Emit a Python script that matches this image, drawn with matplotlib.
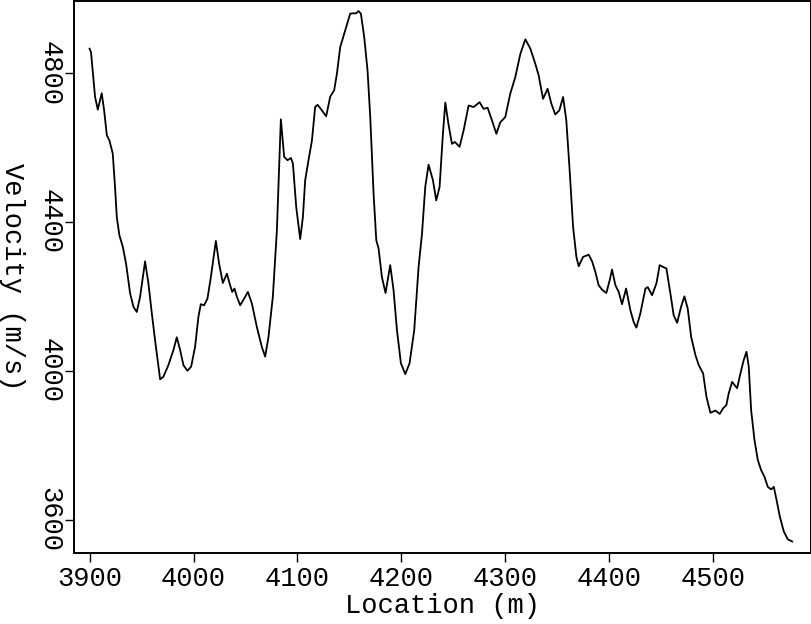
import numpy as np
import matplotlib
matplotlib.use("Agg")
import matplotlib.pyplot as plt

# ###########################################################
# Data
# ###########################################################

location = [
    3900, 3901.4, 3905.3, 3907.9, 3911.7, 3914, 3916.6, 3919.1, 3922.3, 3924.5,
    3926.2, 3928.7, 3932, 3935.1, 3939, 3942.2, 3945.4, 3948.6, 3953.4, 3956.6,
    3959.9, 3963, 3967.9, 3971, 3975.8, 3980.7, 3983.9, 3987.1, 3990.3, 3994.1,
    3997.7, 4001.5, 4004.7, 4007, 4010.2, 4013.4, 4016.7, 4021.5, 4024.6, 4028.2,
    4032.1, 4035.2, 4037.2, 4039.4, 4041.7, 4044.9, 4048.7, 4052.3, 4056.1, 4060.9,
    4065.7, 4068.9, 4072.1, 4076.3, 4080.2, 4084, 4087.2, 4090.4, 4093.7, 4095.6,
    4098.8, 4102.6, 4105.2, 4107.4, 4110.6, 4113.9, 4117, 4119.3, 4123.5, 4127.6,
    4131.5, 4135.3, 4137.9, 4141.1, 4145.9, 4150.7, 4153.9, 4156.5, 4158.7, 4161,
    4164.2, 4167.4, 4170, 4173.2, 4175.8, 4178, 4181.2, 4184.7, 4189.2, 4192.4,
    4195.7, 4199.5, 4203.7, 4207.8, 4212.3, 4216.5, 4219.8, 4222.9, 4226.1, 4230.3,
    4233.5, 4236.7, 4239.8, 4242.2, 4245.3, 4248.6, 4251.5, 4255.9, 4259.8, 4264.6,
    4269.4, 4275.2, 4279, 4282.9, 4287.1, 4291.3, 4295.1, 4299.9, 4304.7, 4309.5,
    4314.4, 4319.2, 4324, 4328.8, 4332, 4336.2, 4340.6, 4344.2, 4348, 4351.9,
    4355.5, 4358.6, 4361.8, 4365.1, 4368.3, 4370.5, 4374.7, 4380.1, 4383.4, 4386.5,
    4389.7, 4393, 4397.1, 4400.3, 4402.6, 4405.8, 4409, 4412.2, 4416.1, 4420.2,
    4423.4, 4426, 4429.8, 4434.7, 4436.9, 4441.1, 4445.3, 4448.4, 4451.7, 4454.9,
    4458.7, 4461.9, 4465.2, 4469, 4472.2, 4475.4, 4478.7, 4482.8, 4486, 4490.2,
    4493.4, 4497.2, 4502, 4506.2, 4509.4, 4512.6, 4514.8, 4518.1, 4522.9, 4526.1,
    4529.3, 4531.9, 4534.1, 4536.4, 4539.6, 4542.8, 4546, 4549.2, 4552.4, 4555.7,
    4558.2, 4560.8, 4564, 4567.8, 4571.6, 4575.9,
]

velocity = [
    4866, 4856, 4736, 4702, 4746, 4700, 4633, 4619, 4584, 4494,
    4413, 4364, 4333, 4288, 4208, 4172, 4158, 4199, 4294, 4235,
    4154, 4082, 3977, 3984, 4015, 4056, 4090, 4056, 4015, 4000,
    4011, 4064, 4145, 4179, 4176, 4194, 4252, 4349, 4288, 4236,
    4261, 4230, 4212, 4221, 4199, 4176, 4194, 4212, 4181, 4118,
    4064, 4038, 4091, 4199, 4378, 4676, 4575, 4566, 4572, 4557,
    4440, 4354, 4413, 4512, 4566, 4619, 4709, 4715, 4700, 4684,
    4737, 4754, 4798, 4870, 4915, 4960, 4961, 4961, 4967, 4960,
    4897, 4807, 4682, 4476, 4351, 4329, 4252, 4209, 4284, 4217,
    4109, 4020, 3991, 4020, 4109, 4279, 4369, 4494, 4554, 4512,
    4458, 4494, 4633, 4721, 4662, 4610, 4615, 4602, 4646, 4713,
    4709, 4722, 4704, 4707, 4673, 4637, 4668, 4682, 4745, 4789,
    4852, 4891, 4866, 4825, 4794, 4731, 4758, 4718, 4689, 4700,
    4736, 4673, 4539, 4387, 4306, 4281, 4306, 4312, 4294, 4266,
    4230, 4218, 4209, 4243, 4272, 4230, 4212, 4179, 4221, 4163,
    4131, 4116, 4154, 4221, 4225, 4203, 4235, 4284, 4279, 4275,
    4208, 4149, 4129, 4172, 4200, 4167, 4091, 4042, 4015, 3993,
    3930, 3887, 3893, 3884, 3899, 3908, 3939, 3970, 3953, 3993,
    4029, 4051, 4011, 3894, 3814, 3760, 3733, 3715, 3688, 3681,
    3688, 3653, 3608, 3568, 3547, 3541,
]

xticks = [3900, 4000, 4100, 4200, 4300, 4400, 4500]
yticks = [3600, 4000, 4400, 4800]

# ###########################################################
# Figure
# ###########################################################

plt.rcParams["font.family"] = ["Liberation Mono", "DejaVu Sans Mono"]
plt.rcParams["font.size"] = 19.5

fig = plt.figure(figsize=(8.12, 6.24), dpi=100)
ax = fig.add_axes([0.0911, 0.1143, 0.9077, 0.8847])

ax.plot(np.array(location), np.array(velocity), color="black", linewidth=1.3,
        solid_joinstyle="round")

ax.set_xlim(3885, 4594)
ax.set_ylim(3511, 4995)
ax.set_xticks(xticks)
ax.set_yticks(yticks)

for side in ax.spines.values():
    side.set_linewidth(1.4)

ax.tick_params(axis="both", direction="out", length=6.5, width=1.0, color="black")
ax.tick_params(axis="x", pad=3)
ax.tick_params(axis="y", pad=2)
for lbl in ax.get_yticklabels():
    lbl.set_rotation(-90)
    lbl.set_va("center")

ax.set_xlabel("Location (m)", labelpad=1)
ax.set_ylabel("Velocity (m/s)", rotation=-90, va="center", ha="center")
ax.yaxis.set_label_coords(-0.084, 0.5)

fig.savefig("out.png", dpi=100)
